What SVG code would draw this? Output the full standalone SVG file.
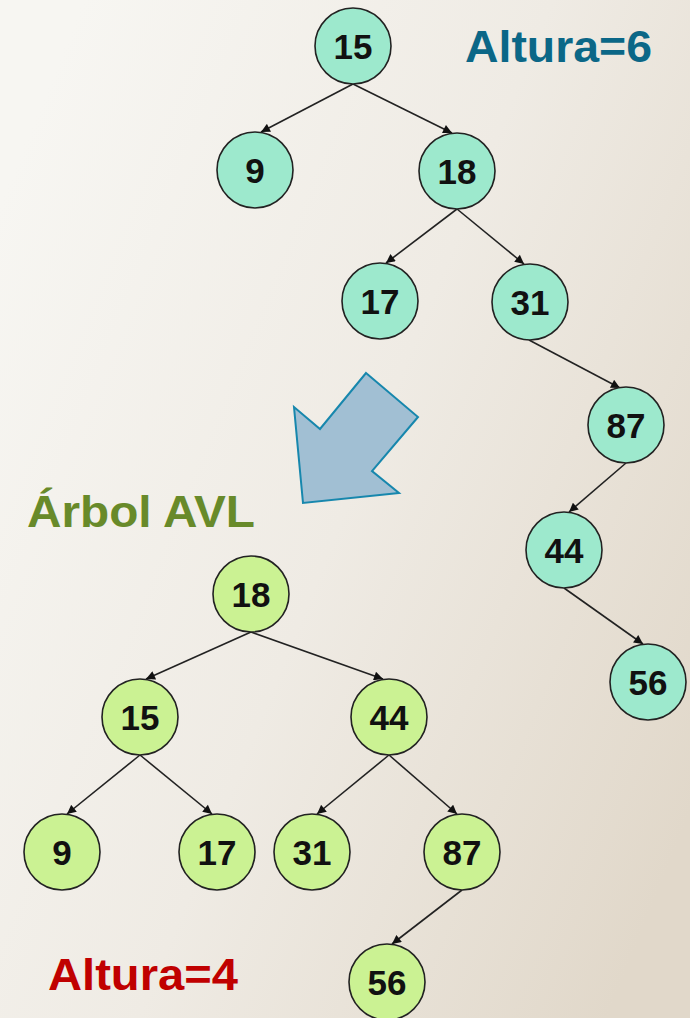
<svg xmlns="http://www.w3.org/2000/svg" width="690" height="1018" viewBox="0 0 690 1018">
  <defs>
    <linearGradient id="bg" x1="0" y1="0.2" x2="1" y2="0.8">
      <stop offset="0" stop-color="#f7f6f2"/>
      <stop offset="0.5" stop-color="#efebe4"/>
      <stop offset="1" stop-color="#e1d8ca"/>
    </linearGradient>
    <marker id="tip" viewBox="0 0 10 10" refX="10" refY="5" markerWidth="10" markerHeight="9" markerUnits="userSpaceOnUse" orient="auto">
      <path d="M0,0 L10,5 L0,10 Z" fill="#111"/>
    </marker>
    <style>
      .edge { stroke: #222; stroke-width: 1.6; fill: none; marker-end: url(#tip); }
      .n1 circle { fill: #9de9cd; stroke: #222; stroke-width: 1.6; }
      .n2 circle { fill: #cbf293; stroke: #222; stroke-width: 1.6; }
      .num { font-family: "Liberation Sans", Arial, sans-serif; font-weight: bold; font-size: 35px; fill: #111; text-anchor: middle; }
      .title { font-family: "Liberation Sans", Arial, sans-serif; font-weight: bold; font-size: 44px; }
    </style>
  </defs>

  <rect x="0" y="0" width="690" height="1018" fill="url(#bg)"/>

  <!-- connectors -->
  <g id="edges">
    <!-- unbalanced tree -->
    <line class="edge" x1="353" y1="84" x2="261" y2="132"/>
    <line class="edge" x1="353" y1="84" x2="452" y2="133"/>
    <line class="edge" x1="457" y1="209" x2="386" y2="263"/>
    <line class="edge" x1="457" y1="209" x2="524" y2="264"/>
    <line class="edge" x1="529" y1="340" x2="620" y2="388"/>
    <line class="edge" x1="626" y1="463" x2="569" y2="512"/>
    <line class="edge" x1="564" y1="588" x2="643" y2="644"/>
    <!-- AVL tree -->
    <line class="edge" x1="251" y1="632" x2="146" y2="679"/>
    <line class="edge" x1="251" y1="632" x2="383" y2="679"/>
    <line class="edge" x1="140" y1="755" x2="67" y2="814"/>
    <line class="edge" x1="140" y1="755" x2="212" y2="814"/>
    <line class="edge" x1="389" y1="755" x2="317" y2="814"/>
    <line class="edge" x1="389" y1="755" x2="457" y2="814"/>
    <line class="edge" x1="462" y1="890" x2="392" y2="944"/>
  </g>

  <!-- unbalanced tree nodes -->
  <g id="t1-15" class="n1"><circle cx="353" cy="46" r="38"/><text class="num" x="353" y="59">15</text></g>
  <g id="t1-9" class="n1"><circle cx="255" cy="170" r="38"/><text class="num" x="255" y="183">9</text></g>
  <g id="t1-18" class="n1"><circle cx="457" cy="171" r="38"/><text class="num" x="457" y="184">18</text></g>
  <g id="t1-17" class="n1"><circle cx="380" cy="301" r="38"/><text class="num" x="380" y="314">17</text></g>
  <g id="t1-31" class="n1"><circle cx="530" cy="302" r="38"/><text class="num" x="530" y="315">31</text></g>
  <g id="t1-87" class="n1"><circle cx="626" cy="425" r="38"/><text class="num" x="626" y="438">87</text></g>
  <g id="t1-44" class="n1"><circle cx="564" cy="550" r="38"/><text class="num" x="564" y="563">44</text></g>
  <g id="t1-56" class="n1"><circle cx="648" cy="682" r="38"/><text class="num" x="648" y="695">56</text></g>

  <!-- AVL tree nodes -->
  <g id="t2-18" class="n2"><circle cx="251" cy="594" r="38"/><text class="num" x="251" y="607">18</text></g>
  <g id="t2-15" class="n2"><circle cx="140" cy="717" r="38"/><text class="num" x="140" y="730">15</text></g>
  <g id="t2-44" class="n2"><circle cx="389" cy="717" r="38"/><text class="num" x="389" y="730">44</text></g>
  <g id="t2-9" class="n2"><circle cx="62" cy="852" r="38"/><text class="num" x="62" y="865">9</text></g>
  <g id="t2-17" class="n2"><circle cx="217" cy="852" r="38"/><text class="num" x="217" y="865">17</text></g>
  <g id="t2-31" class="n2"><circle cx="312" cy="852" r="38"/><text class="num" x="312" y="865">31</text></g>
  <g id="t2-87" class="n2"><circle cx="462" cy="852" r="38"/><text class="num" x="462" y="865">87</text></g>
  <g id="t2-56" class="n2"><circle cx="387" cy="982" r="38"/><text class="num" x="387" y="995">56</text></g>

  <!-- transformation arrow -->
  <g id="arrow">
    <polygon points="366,373 418,417 372,471 399,493 303,503 294,407 320,429" fill="#a1bfd3" stroke="#1787ad" stroke-width="2" stroke-linejoin="miter"/>
  </g>

  <!-- labels -->
  <g id="labels">
    <text class="title" x="465" y="62" fill="#0b6787" textLength="187" lengthAdjust="spacingAndGlyphs">Altura=6</text>
    <text class="title" x="27" y="527" fill="#688a2a" textLength="228" lengthAdjust="spacingAndGlyphs">Árbol AVL</text>
    <text class="title" x="48" y="990" fill="#c00000" textLength="190" lengthAdjust="spacingAndGlyphs">Altura=4</text>
  </g>
</svg>
